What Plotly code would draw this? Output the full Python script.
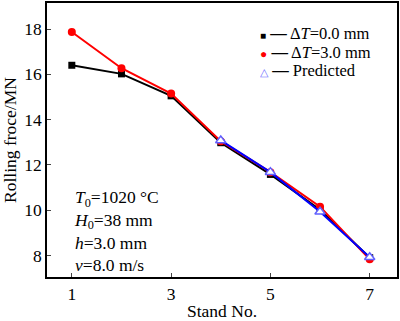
import plotly.graph_objects as go

stands = [1, 2, 3, 4, 5, 6, 7]
force_dt0 = [16.4, 16.02, 15.05, 12.98, 11.58, 10.02, 7.9]
force_dt3 = [17.87, 16.27, 15.15, 13.05, 11.68, 10.15, 7.83]
pred_stands = [4, 5, 6, 7]
force_pred = [13.08, 11.68, 9.93, 7.92]
x_ticks = [1, 3, 5, 7]
y_ticks = [8, 10, 12, 14, 16, 18]

FONT = "Liberation Serif"

fig = go.Figure()
fig.add_trace(go.Scatter(x=stands, y=force_dt0, mode="lines+markers",
                         line=dict(color="black", width=2),
                         marker=dict(symbol="square", size=7, color="black"),
                         showlegend=False))
fig.add_trace(go.Scatter(x=stands, y=force_dt3, mode="lines+markers",
                         line=dict(color="#ff0000", width=2),
                         marker=dict(symbol="circle", size=8, color="#ff0000"),
                         showlegend=False))
fig.add_trace(go.Scatter(x=pred_stands, y=force_pred, mode="lines+markers",
                         line=dict(color="#0000ff", width=2),
                         marker=dict(symbol="triangle-up", size=9,
                                     color="white", line=dict(width=1.5, color="#6060ff")),
                         showlegend=False))

# custom legend (marker + dash + label)
legend_rows = [
    ("<span style='color:black;font-size:10px'>■</span>", "Δ<i>T</i>=0.0 mm"),
    ("<span style='color:#ff0000;font-size:12px'>●</span>", "Δ<i>T</i>=3.0 mm"),
    ("<span style='color:#7070ff;font-size:11px'>△</span>", "Predicted"),
]
for i, (sym, lab) in enumerate(legend_rows):
    fig.add_annotation(xref="paper", yref="paper", x=0.603, y=0.887 - i * 0.066,
                       xanchor="left", yanchor="middle", showarrow=False,
                       text=sym + " <b>—</b> " + lab,
                       font=dict(family=FONT, size=16.5, color="black"))

fig.add_annotation(xref="paper", yref="paper", x=0.072, y=0.335,
                   xanchor="left", yanchor="top", showarrow=False, align="left",
                   text=("<i>T</i><sub>0</sub>=1020 °C<br><i>H</i><sub>0</sub>=38 mm<br>"
                         "<i>h</i>=3.0 mm<br><i>v</i>=8.0 m/s"),
                   font=dict(family=FONT, size=17.5, color="black"))

fig.update_layout(
    width=400, height=321,
    margin=dict(l=47, r=1, t=1, b=41),
    plot_bgcolor="white", paper_bgcolor="white",
    font=dict(family=FONT, size=17.5, color="black"),
)
fig.update_xaxes(range=[0.5, 7.55], tickvals=x_ticks, ticks="inside", ticklen=4,
                 showline=True, linecolor="black", linewidth=1.5, mirror=True,
                 showgrid=False, zeroline=False, tickfont=dict(size=17.5),
                 title=dict(text="Stand No.", standoff=4, font=dict(size=17.5)))
fig.update_yaxes(range=[7.05, 19.15], tickvals=y_ticks, ticks="inside", ticklen=4,
                 showline=True, linecolor="black", linewidth=1.5, mirror=True,
                 showgrid=False, zeroline=False, tickfont=dict(size=17.5),
                 title=dict(text="Rolling froce/MN", standoff=3, font=dict(size=17.5)))

fig.write_html("out.html")
